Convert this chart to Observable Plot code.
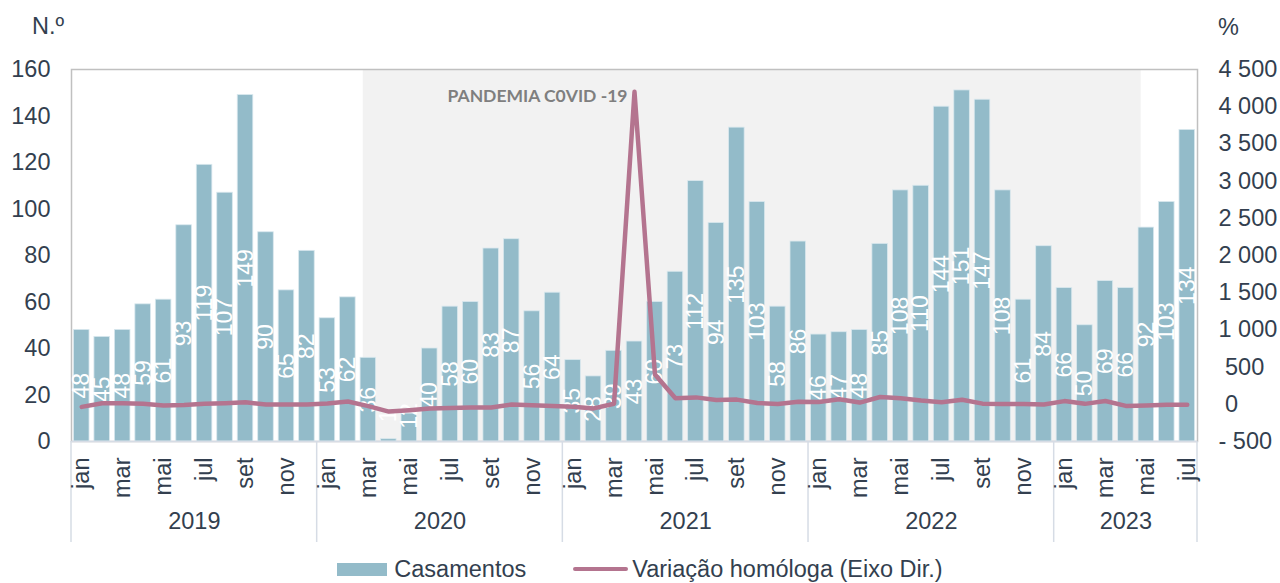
<!DOCTYPE html>
<html>
<head>
<meta charset="utf-8">
<script src="https://cdn.jsdelivr.net/npm/d3@7"></script>
<script src="https://cdn.jsdelivr.net/npm/@observablehq/plot@0.6"></script>
<style>
  html, body { margin: 0; padding: 0; background: #fff; }
  #wrap { position: relative; width: 1280px; height: 583px; font-family: "Liberation Sans", Arial, sans-serif; color: #333f4f; }
  .unit { position: absolute; font-size: 23.5px; line-height: 23.5px; }
  #legend { display: flex; justify-content: center; align-items: center; height: 28px; font-size: 23.5px; gap: 0; }
  .sw-bar { width: 50px; height: 13px; background: #93bbc9; margin-right: 7px; }
  .sw-line { width: 55px; height: 4.5px; border-radius: 2px; background: #b4748f; margin-left: 47px; margin-right: 4px; }
</style>
</head>
<body>
<div id="wrap">
  <div class="unit" style="left:32px; top:15px;">N.º</div>
  <div class="unit" style="left:1218px; top:16px;">%</div>
  <div id="chart"></div>
  <div id="legend">
    <div class="sw-bar"></div><span>Casamentos</span>
    <div class="sw-line"></div><span>Variação homóloga (Eixo Dir.)</span>
  </div>
</div>
<script>
// ---- Data ----
const monthNames = ["jan","fev","mar","abr","mai","jun","jul","ago","set","out","nov","dez"];
const years = [2019, 2020, 2021, 2022, 2023];
const casamentos = [
  48,45,48,59,61,93,119,107,149,90,65,82,
  53,62,36,1,12,40,58,60,83,87,56,64,
  35,28,39,43,60,73,112,94,135,103,58,86,
  46,47,48,85,108,110,144,151,147,108,61,84,
  66,50,69,66,92,103,134
];
const variacao = [
  -35,15,15,7,-15,-10,7,15,28,-3,-3,-3,
  10,38,-25,-98,-80,-57,-51,-44,-44,-3,-14,-22,
  -34,-55,8,4200,400,82,93,57,63,18,4,34,
  31,68,23,98,80,51,29,61,9,5,5,-2,
  43,6,44,-22,-15,-6,-7
];
const leftTicks = [0,20,40,60,80,100,120,140,160];
const rightTicks = [-500,0,500,1000,1500,2000,2500,3000,3500,4000,4500];
const pandemicStart = "mar 2020";
const pandemicEnd = "abr 2023";
const annotation = "PANDEMIA C0VID -19";
const annotationAt = "abr 2021";

// ---- Build table ----
const data = casamentos.map((v, i) => ({
  i,
  month: monthNames[i % 12],
  year: years[Math.floor(i / 12)],
  key: monthNames[i % 12] + " " + years[Math.floor(i / 12)],
  v,
  pct: variacao[i]
}));
const N = data.length;
const yMax = 160;
const rMin = -500, rMax = 4500;
const k = yMax / (rMax - rMin);
const toLeft = p => (p - rMin) * k;
const idxOf = key => data.find(d => d.key === key).i;

const fmtRight = v => {
  const g = s => String(s).replace(/\B(?=(\d{3})+(?!\d))/g, " ");
  if (v < 0) return "- " + g(-v);
  if (v < 1000) return "\u00a0" + v;
  return g(v);
};

const yearGroups = years.map(y => {
  const items = data.filter(d => d.year === y);
  return {year: y, start: items[0].i, end: items[items.length - 1].i + 1};
});

const textColor = "#333f4f";
const fs = 23.5;

function categoryBox(...args) {
  const scales = args.find(a => a && typeof a.x === "function" && typeof a.y === "function");
  const {x, y} = scales;
  const g = d3.create("svg:g");
  const y0 = y(0);
  const depth = 101;
  g.append("line")
    .attr("x1", x(0)).attr("x2", x(N))
    .attr("y1", y0 + 0.5).attr("y2", y0 + 0.5)
    .attr("stroke", "#d6dce5").attr("stroke-width", 1.5);
  const bounds = yearGroups.map(d => d.start).concat([N]);
  for (const b of bounds) {
    g.append("line")
      .attr("x1", x(b)).attr("x2", x(b))
      .attr("y1", y0).attr("y2", y0 + depth)
      .attr("stroke", "#d6dce5").attr("stroke-width", 1.5);
  }
  return g.node();
}

const chart = Plot.plot({
  width: 1280,
  height: 555,
  marginTop: 69,
  marginLeft: 71,
  marginRight: 83,
  marginBottom: 114,
  style: {fontFamily: '"Liberation Sans", Arial, sans-serif', fontSize: fs + "px", color: textColor, background: "#fff"},
  x: {type: "linear", domain: [0, N], axis: null},
  y: {domain: [0, yMax], axis: null},
  marks: [
    Plot.rect([{}], {
      x1: () => idxOf(pandemicStart) + 0.25,
      x2: () => idxOf(pandemicEnd) + 1.25,
      fill: "#f2f2f2"
    }),
    Plot.frame({stroke: "#c0c0c0", strokeWidth: 1.5}),
    Plot.rectY(data, {
      x1: d => d.i + 0.12,
      x2: d => d.i + 0.88,
      y1: 0,
      y2: "v",
      fill: "#93bbc9",
      stroke: "#d9e8ee",
      strokeWidth: 0.8
    }),
    categoryBox,
    Plot.text(data, {
      x: d => d.i + 0.5,
      y: d => Math.max(d.v / 2, 11),
      text: d => String(d.v),
      rotate: -90,
      fill: "#fff",
      fontSize: 23
    }),
    Plot.line(data, {
      x: d => d.i + 0.5,
      y: d => toLeft(d.pct),
      stroke: "#b4748f",
      strokeWidth: 4.5,
      strokeLinejoin: "round",
      strokeLinecap: "round"
    }),
    Plot.text([annotation], {
      x: () => idxOf(annotationAt) + 0.5,
      frameAnchor: "top",
      dy: 20,
      dx: -7,
      textAnchor: "end",
      text: d => d,
      fill: "#7f7f7f",
      fontWeight: "bold",
      fontFamily: "Lato, 'Open Sans', sans-serif",
      fontSize: 17.5
    }),
    Plot.axisY(leftTicks, {
      anchor: "left",
      tickSize: 0,
      tickPadding: 21,
      label: null,
      fontSize: fs
    }),
    Plot.axisY(rightTicks.map(toLeft), {
      anchor: "right",
      tickSize: 0,
      tickPadding: 21,
      label: null,
      textAnchor: "start",
      tickFormat: p => fmtRight(Math.round(p / k + rMin)),
      fontSize: fs
    }),
    Plot.text(data.filter(d => d.i % 2 === 0), {
      x: d => d.i + 0.5,
      frameAnchor: "bottom",
      text: "month",
      rotate: -90,
      textAnchor: "end",
      lineAnchor: "middle",
      dy: 16,
      fill: textColor,
      fontSize: fs
    }),
    Plot.text(yearGroups, {
      x: d => (d.start + d.end) / 2,
      frameAnchor: "bottom",
      text: d => String(d.year),
      dy: 87,
      fill: textColor,
      fontSize: fs
    })
  ]
});
document.getElementById("chart").appendChild(chart);
</script>
</body>
</html>
